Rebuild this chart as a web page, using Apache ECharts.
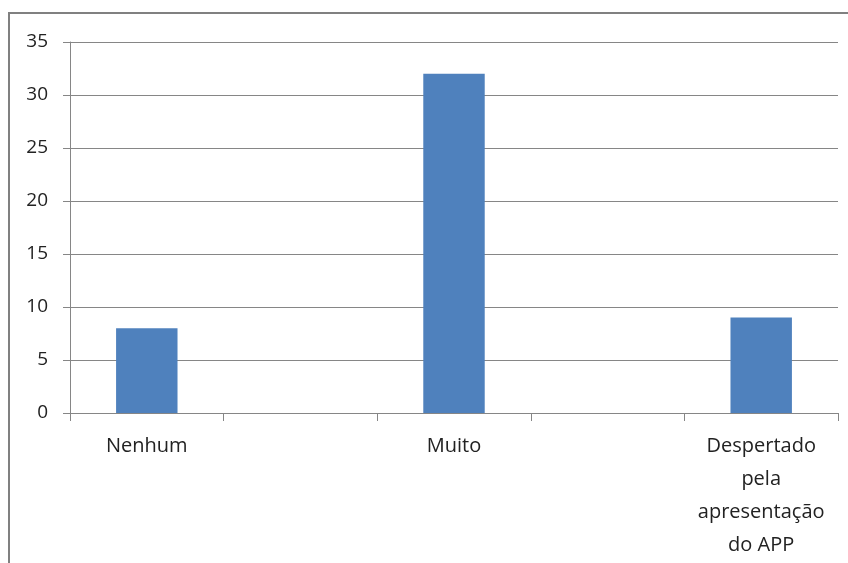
<!DOCTYPE html>
<html>
<head>
<meta charset="utf-8">
<script src="https://cdn.jsdelivr.net/npm/echarts@6/dist/echarts.min.js"></script>
<style>
  html, body { margin: 0; padding: 0; background: #fff; }
  #chart { width: 848px; height: 563px; }
</style>
</head>
<body>
<div id="chart"></div>
<script>
// Categories (empty slots keep the wide spacing between the three answers)
const categories = ['Nenhum', '', 'Muito', '', 'Despertado\npela\napresentação\ndo APP'];
// Number of answers per category
const values = [8, null, 32, null, 9];
// Value axis
const yMin = 0;
const yMax = 35;
const yStep = 5;

const axisGray = '#868686';
const fontFamily = '"Open Sans", "Noto Sans", sans-serif';

const chart = echarts.init(document.getElementById('chart'), null, { renderer: 'canvas' });

chart.setOption({
  animation: false,
  backgroundColor: '#ffffff',
  graphic: [{
    type: 'rect',
    shape: { x: 9, y: 13, width: 900, height: 600 },
    style: { fill: 'none', stroke: '#808080', lineWidth: 2 },
    z: 100
  }],
  grid: { left: 70, right: 10, top: 42, bottom: 150, containLabel: false },
  xAxis: {
    type: 'category',
    data: categories,
    boundaryGap: true,
    axisLine: { show: true, lineStyle: { color: axisGray, width: 1 } },
    axisTick: { show: true, length: 8, alignWithLabel: false, interval: 0, lineStyle: { color: axisGray } },
    axisLabel: {
      interval: 0,
      margin: 17,
      color: '#222',
      fontSize: 20,
      lineHeight: 33,
      fontFamily: fontFamily,
      align: 'center'
    },
    splitLine: { show: false }
  },
  yAxis: {
    type: 'value',
    min: yMin,
    max: yMax,
    interval: yStep,
    axisLine: { show: true, lineStyle: { color: axisGray, width: 1 } },
    axisTick: { show: true, length: 7, lineStyle: { color: axisGray } },
    axisLabel: {
      margin: 22,
      color: '#222',
      fontSize: 19,
      fontFamily: fontFamily
    },
    splitLine: { show: true, lineStyle: { color: axisGray, width: 1 } }
  },
  series: [{
    type: 'bar',
    data: values,
    barWidth: '40%',
    itemStyle: { color: '#4f81bd' }
  }]
});
</script>
</body>
</html>
